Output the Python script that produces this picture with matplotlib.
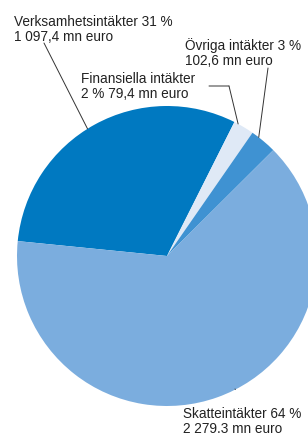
import numpy as np
import matplotlib.pyplot as plt

# data
categories = ['Verksamhetsintäkter', 'Finansiella intäkter', 'Övriga intäkter', 'Skatteintäkter']
values = [1097.4, 79.4, 102.6, 2279.3]
labels = [
    'Verksamhetsintäkter 31 %\n1 097,4 mn euro',
    'Finansiella intäkter\n2 % 79,4 mn euro',
    'Övriga intäkter 3 %\n102,6 mn euro',
    'Skatteintäkter 64 %\n2 279.3 mn euro',
]
colors = ['#0079c1', '#dfe9f6', '#3f92d2', '#7badde']

W, H = 308, 436
plt.rcParams['font.family'] = ['Liberation Sans', 'DejaVu Sans']
fig = plt.figure(figsize=(W / 100, H / 100), dpi=100)
ax = fig.add_axes([17 / W, 30 / H, 300 / W, 300 / H])
wedges, _ = ax.pie(values, colors=colors, startangle=174.3, counterclock=False,
                   radius=1, wedgeprops={'linewidth': 0})
for w in wedges:
    w.set_clip_on(False)
ax.set_xlim(-1, 1)
ax.set_ylim(-1, 1)
ax.set_aspect('equal')
ax.axis('off')

# label text positions (image pixels, top-left) and leader line anchors
text_pos = [(14, 15), (81, 72), (185, 38), (183, 407)]
line_angles = [122, 61.7, 52.3, -62.9]
line_ends = [[(44, 43)], [(229, 86), (209, 86)], [(268, 68)], [(235, 389)]]

for lab, (tx, ty) in zip(labels, text_pos):
    fig.text(tx / W, 1 - ty / H, lab, ha='left', va='top', fontsize=9.8,
             color='#222222', linespacing=1.05)

for ang, pts in zip(line_angles, line_ends):
    a = np.deg2rad(ang)
    start = (np.cos(a), np.sin(a))
    prev_xy, prev_coords = start, 'data'
    for px, py in pts:
        ax.annotate('', xy=prev_xy, xycoords=prev_coords,
                    xytext=(px, H - py), textcoords='figure pixels',
                    arrowprops=dict(arrowstyle='-', color='#333333', lw=0.7,
                                    shrinkA=0, shrinkB=0),
                    annotation_clip=False)
        prev_xy, prev_coords = (px, H - py), 'figure pixels'

fig.savefig('out.png', dpi=100)
